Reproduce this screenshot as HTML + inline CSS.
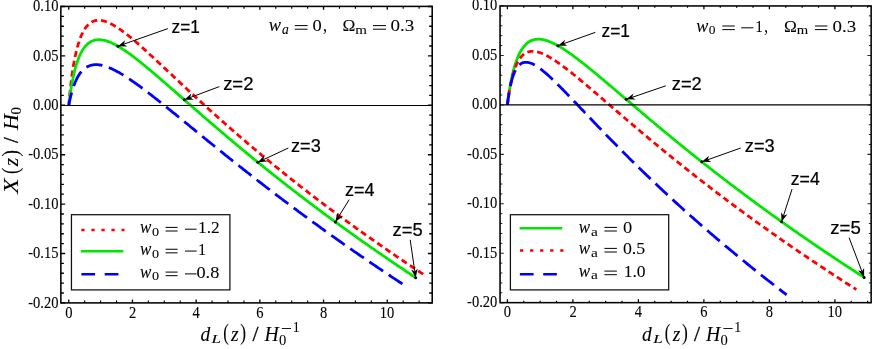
<!DOCTYPE html>
<html><head><meta charset="utf-8"><title>plot</title>
<style>html,body{margin:0;padding:0;background:#fff;}body{width:872px;height:349px;overflow:hidden;font-family:"Liberation Sans",sans-serif;}svg{display:block;will-change:transform;}text{fill:#000;}.t text{stroke:#000;stroke-width:0.1px;}.z text{stroke:#000;stroke-width:0.22px;}.m text{stroke:#000;stroke-width:0.06px;}</style>
</head><body>
<svg width="872" height="349" viewBox="0 0 872 349">
<rect width="872" height="349" fill="#fff"/>
<path d="M68.8 105.3 L68.9 103.4 L69.1 101.6 L69.2 99.8 L69.4 98.1 L69.6 96.3 L69.7 94.6 L69.9 92.9 L70.1 91.3 L70.2 89.7 L70.4 88.1 L70.6 86.6 L70.8 85.0 L70.9 83.5 L71.1 82.0 L71.3 80.6 L71.5 79.2 L71.7 77.4 L71.9 75.7 L72.2 74.1 L72.4 72.5 L72.6 70.9 L72.9 69.3 L73.1 67.8 L73.3 66.3 L73.6 64.9 L73.8 63.5 L74.1 61.8 L74.4 60.2 L74.7 58.7 L75.0 57.2 L75.3 55.7 L75.6 54.3 L76.0 52.9 L76.3 51.3 L76.7 49.8 L77.1 48.3 L77.4 46.9 L77.9 45.4 L78.3 43.9 L78.8 42.5 L79.2 41.1 L79.7 39.6 L80.2 38.3 L80.7 36.9 L81.3 35.5 L81.9 34.2 L82.6 32.9 L83.2 31.6 L83.9 30.3 L84.7 29.0 L85.5 27.8 L86.4 26.7 L87.4 25.6 L88.4 24.5 L89.5 23.5 L90.7 22.7 L91.9 21.9 L93.3 21.3 L94.6 20.8 L96.0 20.5 L97.5 20.3 L99.0 20.3 L100.4 20.4 L101.8 20.6 L103.3 20.9 L104.7 21.2 L106.1 21.7 L107.4 22.2 L108.8 22.8 L110.0 23.4 L111.3 24.0 L112.6 24.7 L113.9 25.4 L115.2 26.2 L116.4 27.0 L117.7 27.8 L118.9 28.6 L120.0 29.4 L121.2 30.2 L122.4 31.1 L123.6 32.0 L124.8 32.9 L125.9 33.7 L127.1 34.6 L128.2 35.5 L129.3 36.4 L130.5 37.4 L131.6 38.3 L132.8 39.3 L133.9 40.3 L135.1 41.2 L136.2 42.2 L137.3 43.1 L138.3 44.1 L139.4 45.0 L140.5 46.0 L141.6 46.9 L142.7 47.9 L143.8 48.9 L144.9 49.9 L146.0 50.9 L147.1 51.9 L148.2 52.9 L149.3 53.9 L150.4 55.0 L151.6 56.0 L152.7 57.0 L153.8 58.0 L154.9 59.1 L156.0 60.1 L157.0 61.0 L158.0 62.0 L159.1 63.0 L160.1 63.9 L161.2 64.9 L162.2 65.9 L163.3 66.9 L164.3 67.9 L165.4 68.9 L166.5 69.9 L167.5 70.9 L168.6 71.8 L169.6 72.8 L170.7 73.8 L171.8 74.8 L172.8 75.8 L173.9 76.9 L175.0 77.9 L176.1 78.9 L177.1 79.9 L178.2 80.9 L179.3 81.9 L180.4 82.9 L181.4 83.9 L182.5 84.9 L183.6 85.9 L184.7 86.9 L185.8 87.9 L186.9 89.0 L188.0 90.0 L189.0 91.0 L190.1 92.0 L191.2 93.0 L192.3 94.0 L193.4 95.0 L194.5 96.1 L195.6 97.1 L196.7 98.1 L197.8 99.1 L198.9 100.1 L200.0 101.1 L201.1 102.1 L202.2 103.1 L203.4 104.2 L204.5 105.2 L205.6 106.2 L206.7 107.2 L207.8 108.2 L208.9 109.2 L210.0 110.2 L211.1 111.2 L212.3 112.2 L213.4 113.2 L214.5 114.3 L215.6 115.3 L216.7 116.3 L217.9 117.3 L219.0 118.3 L220.1 119.3 L221.2 120.3 L222.4 121.3 L223.5 122.3 L224.6 123.3 L225.8 124.3 L226.9 125.3 L228.0 126.3 L229.2 127.3 L230.3 128.3 L231.4 129.3 L232.6 130.3 L233.7 131.3 L234.9 132.3 L236.0 133.2 L237.1 134.2 L238.3 135.2 L239.4 136.2 L240.6 137.2 L241.7 138.2 L242.9 139.2 L244.0 140.2 L245.2 141.1 L246.3 142.1 L247.5 143.1 L248.6 144.1 L249.8 145.1 L250.9 146.0 L252.1 147.0 L253.2 148.0 L254.4 149.0 L255.5 149.9 L256.7 150.9 L257.9 151.9 L259.0 152.9 L260.2 153.8 L261.3 154.8 L262.5 155.8 L263.7 156.7 L264.8 157.7 L266.0 158.7 L267.2 159.6 L268.3 160.6 L269.5 161.5 L270.7 162.5 L271.8 163.5 L273.0 164.4 L274.2 165.4 L275.3 166.3 L276.5 167.3 L277.7 168.2 L278.9 169.2 L280.0 170.1 L281.2 171.1 L282.4 172.0 L283.6 173.0 L284.7 173.9 L285.9 174.9 L287.1 175.8 L288.3 176.7 L289.5 177.7 L290.6 178.6 L291.8 179.6 L293.0 180.5 L294.2 181.4 L295.4 182.4 L296.6 183.3 L297.8 184.2 L298.9 185.2 L300.1 186.1 L301.3 187.0 L302.5 187.9 L303.7 188.9 L304.9 189.8 L306.1 190.7 L307.3 191.6 L308.5 192.6 L309.7 193.5 L310.8 194.4 L312.0 195.3 L313.2 196.2 L314.4 197.1 L315.6 198.1 L316.8 199.0 L318.0 199.9 L319.2 200.8 L320.4 201.7 L321.6 202.6 L322.8 203.5 L324.0 204.4 L325.2 205.3 L326.4 206.2 L327.6 207.1 L328.8 208.0 L330.0 208.9 L331.2 209.8 L332.4 210.7 L333.7 211.6 L334.9 212.5 L336.1 213.4 L337.3 214.3 L338.5 215.2 L339.7 216.1 L340.9 217.0 L342.1 217.9 L343.3 218.8 L344.5 219.7 L345.7 220.5 L347.0 221.4 L348.2 222.3 L349.4 223.2 L350.6 224.1 L351.8 224.9 L353.0 225.8 L354.3 226.7 L355.5 227.6 L356.7 228.5 L357.9 229.3 L359.1 230.2 L360.3 231.1 L361.6 232.0 L362.8 232.8 L364.0 233.7 L365.2 234.6 L366.4 235.4 L367.7 236.3 L368.9 237.2 L370.1 238.0 L371.3 238.9 L372.6 239.7 L373.8 240.6 L375.0 241.5 L376.2 242.3 L377.5 243.2 L378.7 244.0 L379.9 244.9 L381.2 245.7 L382.4 246.6 L383.6 247.5 L384.8 248.3 L386.1 249.2 L387.3 250.0 L388.5 250.9 L389.8 251.7 L391.0 252.5 L392.2 253.4 L393.5 254.2 L394.7 255.1 L395.9 255.9 L397.2 256.8 L398.4 257.6 L399.6 258.4 L400.9 259.3 L402.1 260.1 L403.4 261.0 L404.6 261.8 L405.8 262.6 L407.1 263.5 L408.3 264.3 L409.5 265.1 L410.8 265.9 L412.0 266.8 L413.3 267.6 L414.5 268.4 L415.8 269.3 L417.0 270.1 L418.2 270.9 L419.5 271.7 L420.7 272.6 L422.0 273.4 L423.2 274.2 L424.5 275.0 L424.9 275.3 L426.0 276.1" fill="none" stroke="#ff0000" stroke-width="2.80" stroke-dasharray="6.1 3.79" stroke-dashoffset="0.8"/>
<path d="M68.8 105.3 L69.0 103.6 L69.2 102.0 L69.4 100.4 L69.6 98.8 L69.8 97.2 L70.0 95.7 L70.2 94.2 L70.4 92.8 L70.6 91.3 L70.9 89.7 L71.1 88.0 L71.4 86.5 L71.7 84.9 L71.9 83.4 L72.2 81.9 L72.5 80.5 L72.8 79.1 L73.1 77.5 L73.4 76.0 L73.8 74.5 L74.1 73.0 L74.4 71.6 L74.8 70.0 L75.2 68.5 L75.6 67.1 L76.0 65.7 L76.5 64.2 L77.0 62.7 L77.4 61.4 L78.0 59.9 L78.5 58.5 L79.0 57.1 L79.6 55.7 L80.2 54.4 L80.9 53.1 L81.6 51.8 L82.3 50.5 L83.1 49.2 L84.0 48.0 L84.8 46.9 L85.8 45.7 L86.8 44.7 L87.9 43.7 L89.1 42.8 L90.3 42.0 L91.5 41.3 L92.9 40.7 L94.3 40.3 L95.7 40.0 L97.1 39.8 L98.5 39.7 L99.9 39.7 L101.4 39.8 L102.8 40.1 L104.2 40.3 L105.6 40.7 L107.0 41.1 L108.4 41.6 L109.8 42.1 L111.1 42.7 L112.4 43.3 L113.8 44.0 L115.0 44.6 L116.3 45.3 L117.6 46.0 L118.9 46.8 L120.1 47.5 L121.3 48.3 L122.6 49.1 L123.8 49.9 L125.1 50.7 L126.2 51.5 L127.4 52.3 L128.6 53.2 L129.8 54.0 L131.0 54.9 L132.2 55.8 L133.4 56.7 L134.6 57.6 L135.7 58.5 L136.8 59.3 L137.9 60.2 L139.1 61.1 L140.2 62.0 L141.4 62.9 L142.5 63.9 L143.7 64.8 L144.8 65.7 L146.0 66.7 L147.1 67.7 L148.3 68.6 L149.5 69.6 L150.6 70.5 L151.6 71.4 L152.7 72.3 L153.8 73.3 L154.9 74.2 L156.0 75.1 L157.1 76.1 L158.2 77.0 L159.3 78.0 L160.4 78.9 L161.5 79.9 L162.6 80.8 L163.8 81.8 L164.9 82.8 L166.0 83.8 L167.1 84.7 L168.2 85.7 L169.4 86.7 L170.5 87.7 L171.6 88.6 L172.7 89.6 L173.9 90.6 L175.0 91.6 L176.1 92.6 L177.3 93.6 L178.4 94.6 L179.6 95.6 L180.7 96.6 L181.8 97.6 L183.0 98.6 L184.1 99.6 L185.3 100.6 L186.4 101.6 L187.5 102.6 L188.6 103.5 L189.6 104.4 L190.7 105.4 L191.8 106.3 L192.8 107.2 L193.9 108.2 L195.0 109.1 L196.1 110.1 L197.2 111.0 L198.2 111.9 L199.3 112.9 L200.4 113.8 L201.5 114.8 L202.6 115.7 L203.6 116.6 L204.7 117.6 L205.8 118.5 L206.9 119.5 L208.0 120.4 L209.1 121.4 L210.2 122.3 L211.3 123.2 L212.4 124.2 L213.5 125.1 L214.6 126.1 L215.7 127.0 L216.8 128.0 L217.9 128.9 L219.0 129.8 L220.1 130.8 L221.2 131.7 L222.3 132.7 L223.4 133.6 L224.5 134.5 L225.6 135.5 L226.7 136.4 L227.8 137.4 L228.9 138.3 L230.0 139.2 L231.2 140.2 L232.3 141.1 L233.4 142.1 L234.5 143.0 L235.6 143.9 L236.7 144.9 L237.9 145.8 L239.0 146.7 L240.1 147.7 L241.2 148.6 L242.4 149.5 L243.5 150.5 L244.6 151.4 L245.7 152.3 L246.9 153.3 L248.0 154.2 L249.1 155.1 L250.3 156.1 L251.4 157.0 L252.5 157.9 L253.6 158.8 L254.8 159.8 L255.9 160.7 L257.1 161.6 L258.2 162.5 L259.3 163.5 L260.5 164.4 L261.6 165.3 L262.8 166.2 L263.9 167.1 L265.0 168.1 L266.2 169.0 L267.3 169.9 L268.5 170.8 L269.6 171.7 L270.8 172.6 L271.9 173.6 L273.1 174.5 L274.2 175.4 L275.4 176.3 L276.5 177.2 L277.7 178.1 L278.8 179.0 L280.0 179.9 L281.1 180.9 L282.3 181.8 L283.4 182.7 L284.6 183.6 L285.7 184.5 L286.9 185.4 L288.1 186.3 L289.2 187.2 L290.4 188.1 L291.5 189.0 L292.7 189.9 L293.9 190.8 L295.0 191.7 L296.2 192.6 L297.4 193.5 L298.5 194.4 L299.7 195.3 L300.8 196.2 L302.0 197.0 L303.2 197.9 L304.4 198.8 L305.5 199.7 L306.7 200.6 L307.9 201.5 L309.0 202.4 L310.2 203.3 L311.4 204.2 L312.6 205.0 L313.7 205.9 L314.9 206.8 L316.1 207.7 L317.3 208.6 L318.4 209.4 L319.6 210.3 L320.8 211.2 L322.0 212.1 L323.1 213.0 L324.3 213.8 L325.5 214.7 L326.7 215.6 L327.9 216.4 L329.1 217.3 L330.2 218.2 L331.4 219.1 L332.6 219.9 L333.8 220.8 L335.0 221.7 L336.2 222.5 L337.4 223.4 L338.5 224.2 L339.7 225.1 L340.9 226.0 L342.1 226.8 L343.3 227.7 L344.5 228.6 L345.7 229.4 L346.9 230.3 L348.1 231.1 L349.3 232.0 L350.4 232.8 L351.6 233.7 L352.8 234.5 L354.0 235.4 L355.2 236.2 L356.4 237.1 L357.6 237.9 L358.8 238.8 L360.0 239.6 L361.2 240.5 L362.4 241.3 L363.6 242.2 L364.8 243.0 L366.0 243.9 L367.2 244.7 L368.4 245.5 L369.6 246.4 L370.8 247.2 L372.0 248.1 L373.2 248.9 L374.4 249.7 L375.6 250.6 L376.8 251.4 L378.1 252.2 L379.3 253.1 L380.5 253.9 L381.7 254.7 L382.9 255.6 L384.1 256.4 L385.3 257.2 L386.5 258.0 L387.7 258.9 L388.9 259.7 L390.1 260.5 L391.4 261.3 L392.6 262.2 L393.8 263.0 L395.0 263.8 L396.2 264.6 L397.4 265.5 L398.6 266.3 L399.9 267.1 L401.1 267.9 L402.3 268.7 L403.5 269.5 L404.7 270.4 L405.9 271.2 L407.2 272.0 L408.4 272.8 L409.6 273.6 L410.8 274.4 L412.0 275.2 L413.3 276.0 L414.5 276.8 L415.7 277.6" fill="none" stroke="#00e600" stroke-width="2.80"/>
<path d="M68.8 105.3 L69.0 103.9 L69.3 102.4 L69.6 100.9 L70.0 99.4 L70.3 97.9 L70.7 96.5 L71.0 95.1 L71.4 93.6 L71.8 92.1 L72.2 90.8 L72.6 89.3 L73.1 87.8 L73.6 86.5 L74.1 85.0 L74.6 83.7 L75.2 82.2 L75.8 80.9 L76.4 79.5 L77.1 78.2 L77.8 76.9 L78.5 75.6 L79.3 74.4 L80.1 73.2 L81.1 72.0 L82.0 70.9 L83.0 69.9 L84.0 69.0 L85.2 68.1 L86.4 67.2 L87.6 66.6 L89.0 66.0 L90.3 65.5 L91.7 65.1 L93.1 64.8 L94.6 64.7 L96.1 64.7 L97.5 64.7 L98.9 64.8 L100.4 65.0 L101.8 65.3 L103.2 65.7 L104.6 66.1 L106.0 66.5 L107.3 67.0 L108.7 67.5 L110.1 68.1 L111.4 68.6 L112.8 69.3 L114.0 69.9 L115.3 70.5 L116.6 71.2 L117.9 72.0 L119.2 72.6 L120.4 73.4 L121.7 74.1 L123.0 74.9 L124.2 75.7 L125.4 76.4 L126.6 77.2 L127.8 78.0 L129.0 78.8 L130.3 79.6 L131.5 80.5 L132.7 81.3 L133.9 82.2 L135.1 83.0 L136.3 83.8 L137.4 84.7 L138.6 85.5 L139.8 86.4 L141.0 87.2 L142.1 88.1 L143.3 89.0 L144.5 89.9 L145.7 90.8 L146.9 91.7 L148.1 92.6 L149.2 93.5 L150.4 94.4 L151.5 95.2 L152.6 96.1 L153.7 97.0 L154.9 97.9 L156.0 98.8 L157.2 99.7 L158.3 100.6 L159.5 101.5 L160.6 102.4 L161.8 103.4 L162.9 104.3 L164.1 105.2 L165.2 106.1 L166.4 107.1 L167.6 108.0 L168.7 109.0 L169.9 109.9 L171.1 110.9 L172.2 111.8 L173.4 112.8 L174.6 113.7 L175.8 114.7 L176.9 115.6 L178.0 116.5 L179.1 117.4 L180.2 118.3 L181.3 119.2 L182.4 120.1 L183.5 121.0 L184.6 121.9 L185.7 122.8 L186.9 123.7 L188.0 124.6 L189.1 125.5 L190.2 126.5 L191.3 127.4 L192.5 128.3 L193.6 129.2 L194.7 130.1 L195.8 131.1 L197.0 132.0 L198.1 132.9 L199.2 133.8 L200.4 134.8 L201.5 135.7 L202.6 136.6 L203.8 137.5 L204.9 138.5 L206.1 139.4 L207.2 140.3 L208.4 141.3 L209.5 142.2 L210.6 143.1 L211.8 144.0 L213.0 145.0 L214.1 145.9 L215.3 146.8 L216.4 147.8 L217.6 148.7 L218.7 149.6 L219.9 150.6 L221.0 151.5 L222.2 152.4 L223.4 153.4 L224.5 154.3 L225.7 155.3 L226.9 156.2 L228.0 157.1 L229.2 158.1 L230.4 159.0 L231.5 159.9 L232.7 160.9 L233.9 161.8 L235.1 162.7 L236.2 163.7 L237.4 164.6 L238.6 165.5 L239.8 166.5 L241.0 167.4 L242.2 168.3 L243.3 169.3 L244.5 170.2 L245.7 171.1 L246.9 172.1 L248.1 173.0 L249.3 173.9 L250.5 174.9 L251.7 175.8 L252.8 176.7 L254.0 177.7 L255.2 178.6 L256.4 179.5 L257.6 180.5 L258.8 181.4 L260.0 182.3 L261.2 183.2 L262.4 184.2 L263.6 185.1 L264.8 186.0 L266.0 187.0 L267.2 187.9 L268.4 188.8 L269.7 189.7 L270.9 190.7 L272.1 191.6 L273.3 192.5 L274.5 193.4 L275.7 194.3 L276.9 195.3 L278.1 196.2 L279.3 197.1 L280.6 198.0 L281.8 199.0 L283.0 199.9 L284.2 200.8 L285.4 201.7 L286.7 202.6 L287.9 203.5 L289.1 204.5 L290.3 205.4 L291.5 206.3 L292.8 207.2 L294.0 208.1 L295.2 209.0 L296.5 209.9 L297.7 210.8 L298.9 211.8 L300.1 212.7 L301.4 213.6 L302.6 214.5 L303.8 215.4 L305.1 216.3 L306.3 217.2 L307.5 218.1 L308.8 219.0 L310.0 219.9 L311.2 220.8 L312.5 221.7 L313.6 222.6 L314.8 223.4 L315.9 224.2 L317.1 225.0 L318.2 225.9 L319.4 226.7 L320.5 227.5 L321.6 228.4 L322.8 229.2 L323.9 230.0 L325.1 230.8 L326.2 231.7 L327.4 232.5 L328.6 233.3 L329.7 234.1 L330.9 235.0 L332.0 235.8 L333.2 236.6 L334.3 237.4 L335.5 238.2 L336.6 239.1 L337.8 239.9 L338.9 240.7 L340.1 241.5 L341.3 242.3 L342.4 243.1 L343.6 244.0 L344.7 244.8 L345.9 245.6 L347.1 246.4 L348.2 247.2 L349.4 248.0 L350.6 248.8 L351.7 249.6 L352.9 250.5 L354.0 251.3 L355.2 252.1 L356.4 252.9 L357.5 253.7 L358.7 254.5 L359.9 255.3 L361.0 256.1 L362.2 256.9 L363.4 257.7 L364.6 258.5 L365.7 259.3 L366.9 260.1 L368.1 260.9 L369.2 261.7 L370.4 262.5 L371.6 263.3 L372.8 264.1 L373.9 264.9 L375.1 265.7 L376.3 266.5 L377.5 267.3 L378.6 268.1 L379.8 268.9 L381.0 269.7 L382.2 270.5 L383.4 271.3 L384.5 272.0 L385.7 272.8 L386.9 273.6 L388.1 274.4 L389.3 275.2 L390.4 276.0 L391.6 276.8 L392.8 277.6 L394.0 278.4 L395.2 279.1 L396.3 279.9 L397.5 280.7 L398.7 281.5 L399.9 282.3 L401.1 283.0 L402.3 283.8 L403.3 284.5 L404.4 285.2" fill="none" stroke="#0000ff" stroke-width="2.80" stroke-dasharray="16.5 6.75" stroke-dashoffset="3.4"/>
<path d="M507.4 104.9 L507.6 103.2 L507.8 101.5 L508.0 99.9 L508.2 98.4 L508.4 96.8 L508.7 95.3 L508.9 93.8 L509.1 92.3 L509.3 90.9 L509.5 89.5 L509.8 87.9 L510.1 86.3 L510.4 84.7 L510.6 83.2 L510.9 81.7 L511.2 80.3 L511.5 78.9 L511.8 77.3 L512.2 75.7 L512.5 74.2 L512.9 72.8 L513.2 71.3 L513.6 70.0 L514.0 68.5 L514.4 67.0 L514.8 65.6 L515.2 64.2 L515.7 62.8 L516.2 61.3 L516.7 60.0 L517.2 58.6 L517.8 57.2 L518.3 55.9 L518.9 54.5 L519.6 53.3 L520.3 51.9 L521.0 50.7 L521.7 49.5 L522.6 48.2 L523.4 47.1 L524.3 45.9 L525.3 44.9 L526.4 43.8 L527.5 42.9 L528.7 42.0 L529.9 41.3 L531.2 40.6 L532.6 40.1 L534.0 39.7 L535.4 39.4 L536.9 39.3 L538.3 39.2 L539.8 39.2 L541.2 39.4 L542.6 39.6 L544.1 39.9 L545.5 40.3 L546.9 40.7 L548.2 41.1 L549.6 41.7 L550.9 42.2 L552.3 42.8 L553.6 43.4 L554.9 44.1 L556.2 44.8 L557.5 45.4 L558.7 46.2 L560.0 46.9 L561.2 47.6 L562.5 48.4 L563.8 49.2 L565.0 50.0 L566.2 50.8 L567.4 51.6 L568.6 52.5 L569.8 53.3 L571.0 54.2 L572.3 55.1 L573.4 55.9 L574.6 56.8 L575.7 57.6 L576.9 58.5 L578.1 59.4 L579.2 60.3 L580.4 61.2 L581.6 62.1 L582.7 63.0 L583.9 63.9 L585.1 64.9 L586.3 65.8 L587.4 66.7 L588.5 67.6 L589.6 68.5 L590.7 69.4 L591.9 70.3 L593.0 71.3 L594.1 72.2 L595.2 73.1 L596.3 74.0 L597.5 75.0 L598.6 75.9 L599.7 76.9 L600.9 77.8 L602.0 78.8 L603.2 79.7 L604.3 80.7 L605.4 81.7 L606.6 82.6 L607.7 83.6 L608.9 84.6 L610.0 85.6 L611.2 86.5 L612.4 87.5 L613.5 88.5 L614.7 89.5 L615.8 90.5 L616.9 91.4 L618.0 92.3 L619.1 93.3 L620.2 94.2 L621.2 95.1 L622.3 96.0 L623.4 97.0 L624.5 97.9 L625.6 98.8 L626.7 99.7 L627.8 100.7 L628.9 101.6 L630.0 102.5 L631.1 103.5 L632.2 104.4 L633.3 105.3 L634.4 106.3 L635.5 107.2 L636.6 108.2 L637.7 109.1 L638.8 110.0 L639.9 111.0 L641.0 111.9 L642.1 112.9 L643.2 113.8 L644.3 114.7 L645.5 115.7 L646.6 116.6 L647.7 117.6 L648.8 118.5 L649.9 119.5 L651.0 120.4 L652.2 121.3 L653.3 122.3 L654.4 123.2 L655.5 124.2 L656.7 125.1 L657.8 126.1 L658.9 127.0 L660.1 127.9 L661.2 128.9 L662.3 129.8 L663.5 130.8 L664.6 131.7 L665.7 132.7 L666.9 133.6 L668.0 134.5 L669.2 135.5 L670.3 136.4 L671.4 137.4 L672.6 138.3 L673.7 139.2 L674.9 140.2 L676.0 141.1 L677.2 142.1 L678.3 143.0 L679.5 143.9 L680.6 144.9 L681.8 145.8 L682.9 146.7 L684.1 147.7 L685.2 148.6 L686.4 149.5 L687.6 150.5 L688.7 151.4 L689.9 152.3 L691.0 153.3 L692.2 154.2 L693.4 155.1 L694.5 156.1 L695.7 157.0 L696.8 157.9 L698.0 158.9 L699.2 159.8 L700.3 160.7 L701.5 161.6 L702.7 162.6 L703.9 163.5 L705.0 164.4 L706.2 165.3 L707.4 166.2 L708.5 167.2 L709.7 168.1 L710.9 169.0 L712.1 169.9 L713.3 170.8 L714.4 171.8 L715.6 172.7 L716.8 173.6 L718.0 174.5 L719.2 175.4 L720.3 176.3 L721.5 177.2 L722.7 178.2 L723.9 179.1 L725.1 180.0 L726.3 180.9 L727.4 181.8 L728.6 182.7 L729.8 183.6 L731.0 184.5 L732.2 185.4 L733.4 186.3 L734.6 187.2 L735.8 188.1 L737.0 189.0 L738.2 189.9 L739.4 190.8 L740.6 191.7 L741.8 192.6 L743.0 193.5 L744.2 194.4 L745.4 195.3 L746.6 196.2 L747.8 197.1 L749.0 198.0 L750.2 198.9 L751.4 199.8 L752.6 200.7 L753.8 201.5 L755.0 202.4 L756.2 203.3 L757.4 204.2 L758.6 205.1 L759.8 206.0 L761.0 206.9 L762.2 207.7 L763.4 208.6 L764.6 209.5 L765.9 210.4 L767.1 211.3 L768.3 212.1 L769.5 213.0 L770.7 213.9 L771.9 214.8 L773.1 215.6 L774.4 216.5 L775.6 217.4 L776.8 218.2 L778.0 219.1 L779.2 220.0 L780.4 220.8 L781.7 221.7 L782.9 222.6 L784.1 223.4 L785.3 224.3 L786.5 225.2 L787.8 226.0 L789.0 226.9 L790.2 227.8 L791.4 228.6 L792.7 229.5 L793.9 230.3 L795.1 231.2 L796.3 232.0 L797.6 232.9 L798.8 233.8 L800.0 234.6 L801.3 235.5 L802.5 236.3 L803.7 237.2 L804.9 238.0 L806.2 238.9 L807.4 239.7 L808.6 240.6 L809.9 241.4 L811.1 242.2 L812.3 243.1 L813.6 243.9 L814.8 244.8 L816.1 245.6 L817.3 246.5 L818.5 247.3 L819.8 248.1 L821.0 249.0 L822.2 249.8 L823.5 250.6 L824.7 251.5 L826.0 252.3 L827.2 253.1 L828.4 254.0 L829.7 254.8 L830.9 255.6 L832.2 256.5 L833.4 257.3 L834.7 258.1 L835.9 259.0 L837.2 259.8 L838.4 260.6 L839.6 261.4 L840.9 262.3 L842.1 263.1 L843.4 263.9 L844.6 264.7 L845.9 265.5 L847.1 266.4 L848.4 267.2 L849.6 268.0 L850.9 268.8 L852.1 269.6 L853.4 270.4 L854.6 271.3 L855.9 272.1 L857.1 272.9 L858.4 273.7 L859.6 274.5 L860.9 275.3 L862.2 276.1 L863.4 276.9 L864.1 277.4" fill="none" stroke="#00e600" stroke-width="2.80"/>
<path d="M507.4 104.9 L507.6 103.2 L507.8 101.6 L508.0 100.0 L508.2 98.4 L508.4 96.9 L508.7 95.4 L508.9 94.0 L509.1 92.3 L509.4 90.7 L509.7 89.2 L509.9 87.6 L510.2 86.2 L510.5 84.8 L510.8 83.2 L511.2 81.6 L511.5 80.1 L511.8 78.7 L512.2 77.3 L512.5 75.8 L512.9 74.4 L513.3 73.0 L513.8 71.5 L514.3 70.1 L514.8 68.6 L515.3 67.2 L515.8 65.9 L516.4 64.6 L517.1 63.2 L517.7 61.9 L518.4 60.6 L519.2 59.3 L520.1 58.1 L521.0 56.9 L522.0 55.9 L523.1 54.8 L524.2 53.9 L525.4 53.2 L526.7 52.5 L528.1 52.0 L529.5 51.6 L530.9 51.4 L532.4 51.3 L533.8 51.4 L535.2 51.5 L536.6 51.8 L538.1 52.1 L539.5 52.5 L540.9 53.0 L542.2 53.5 L543.5 54.1 L544.8 54.7 L546.1 55.3 L547.4 56.0 L548.7 56.7 L550.0 57.4 L551.2 58.2 L552.5 59.0 L553.7 59.7 L554.9 60.5 L556.1 61.3 L557.3 62.1 L558.5 63.0 L559.7 63.8 L560.9 64.7 L562.1 65.5 L563.2 66.4 L564.4 67.3 L565.6 68.2 L566.7 69.1 L567.9 70.0 L569.1 70.9 L570.3 71.8 L571.4 72.7 L572.5 73.6 L573.6 74.5 L574.8 75.4 L575.9 76.4 L577.0 77.3 L578.1 78.2 L579.3 79.2 L580.4 80.1 L581.6 81.1 L582.7 82.0 L583.9 83.0 L585.0 84.0 L586.2 84.9 L587.3 85.9 L588.4 86.8 L589.5 87.8 L590.6 88.7 L591.7 89.6 L592.8 90.5 L593.8 91.5 L594.9 92.4 L596.0 93.3 L597.1 94.3 L598.2 95.2 L599.3 96.2 L600.4 97.1 L601.6 98.1 L602.7 99.0 L603.8 100.0 L604.9 101.0 L606.0 101.9 L607.1 102.9 L608.2 103.9 L609.4 104.8 L610.5 105.8 L611.6 106.8 L612.7 107.7 L613.9 108.7 L615.0 109.7 L616.1 110.7 L617.3 111.6 L618.4 112.6 L619.6 113.6 L620.7 114.6 L621.8 115.6 L623.0 116.5 L624.1 117.5 L625.3 118.5 L626.4 119.5 L627.6 120.5 L628.8 121.5 L629.9 122.5 L631.1 123.4 L632.2 124.4 L633.4 125.4 L634.6 126.4 L635.7 127.4 L636.9 128.4 L638.1 129.4 L639.2 130.3 L640.3 131.3 L641.4 132.2 L642.5 133.1 L643.6 134.0 L644.6 134.9 L645.7 135.8 L646.8 136.7 L647.9 137.6 L649.0 138.6 L650.1 139.5 L651.2 140.4 L652.3 141.3 L653.4 142.2 L654.5 143.1 L655.6 144.0 L656.7 144.9 L657.8 145.8 L658.9 146.7 L660.0 147.7 L661.1 148.6 L662.2 149.5 L663.3 150.4 L664.4 151.3 L665.5 152.2 L666.6 153.1 L667.7 154.0 L668.9 154.9 L670.0 155.8 L671.1 156.7 L672.2 157.6 L673.3 158.5 L674.4 159.4 L675.6 160.3 L676.7 161.2 L677.8 162.1 L678.9 163.0 L680.0 163.9 L681.2 164.8 L682.3 165.7 L683.4 166.6 L684.6 167.5 L685.7 168.4 L686.8 169.3 L687.9 170.2 L689.1 171.1 L690.2 172.0 L691.3 172.9 L692.5 173.8 L693.6 174.7 L694.7 175.6 L695.9 176.5 L697.0 177.4 L698.2 178.3 L699.3 179.1 L700.4 180.0 L701.6 180.9 L702.7 181.8 L703.9 182.7 L705.0 183.6 L706.2 184.5 L707.3 185.3 L708.5 186.2 L709.6 187.1 L710.8 188.0 L711.9 188.9 L713.1 189.8 L714.2 190.6 L715.4 191.5 L716.5 192.4 L717.7 193.3 L718.8 194.1 L720.0 195.0 L721.1 195.9 L722.3 196.8 L723.4 197.6 L724.6 198.5 L725.8 199.4 L726.9 200.3 L728.1 201.1 L729.3 202.0 L730.4 202.9 L731.6 203.7 L732.7 204.6 L733.9 205.5 L735.1 206.3 L736.2 207.2 L737.4 208.1 L738.6 208.9 L739.8 209.8 L740.9 210.6 L742.1 211.5 L743.3 212.4 L744.4 213.2 L745.6 214.1 L746.8 214.9 L748.0 215.8 L749.1 216.6 L750.3 217.5 L751.5 218.4 L752.7 219.2 L753.8 220.1 L755.0 220.9 L756.2 221.8 L757.4 222.6 L758.6 223.5 L759.7 224.3 L760.9 225.2 L762.1 226.0 L763.3 226.8 L764.5 227.7 L765.7 228.5 L766.8 229.4 L768.0 230.2 L769.2 231.1 L770.4 231.9 L771.6 232.7 L772.8 233.6 L774.0 234.4 L775.2 235.2 L776.4 236.1 L777.5 236.9 L778.7 237.8 L779.9 238.6 L781.1 239.4 L782.3 240.3 L783.5 241.1 L784.7 241.9 L785.9 242.7 L787.1 243.6 L788.3 244.4 L789.5 245.2 L790.7 246.1 L791.9 246.9 L793.1 247.7 L794.3 248.5 L795.5 249.3 L796.7 250.2 L797.9 251.0 L799.1 251.8 L800.3 252.6 L801.5 253.4 L802.7 254.3 L803.9 255.1 L805.1 255.9 L806.3 256.7 L807.5 257.5 L808.7 258.3 L810.0 259.2 L811.2 260.0 L812.4 260.8 L813.6 261.6 L814.8 262.4 L816.0 263.2 L817.2 264.0 L818.4 264.8 L819.6 265.6 L820.8 266.4 L822.1 267.2 L823.3 268.0 L824.5 268.8 L825.7 269.7 L826.9 270.5 L828.1 271.3 L829.4 272.1 L830.6 272.9 L831.8 273.7 L833.0 274.5 L834.2 275.2 L835.4 276.0 L836.7 276.8 L837.9 277.6 L839.1 278.4 L840.3 279.2 L841.5 280.0 L842.8 280.8 L844.0 281.6 L845.2 282.4 L846.4 283.2 L847.7 284.0 L848.9 284.8 L850.1 285.5 L851.3 286.3 L852.6 287.1 L853.8 287.9 L855.0 288.7 L855.1 288.7 L856.3 289.5" fill="none" stroke="#ff0000" stroke-width="2.80" stroke-dasharray="6.1 3.79" stroke-dashoffset="0.9"/>
<path d="M507.4 104.9 L507.6 103.2 L507.8 101.6 L508.0 100.0 L508.2 98.5 L508.4 97.0 L508.7 95.6 L508.9 94.0 L509.2 92.4 L509.5 90.9 L509.7 89.4 L510.0 88.0 L510.3 86.4 L510.6 84.9 L511.0 83.5 L511.3 82.0 L511.7 80.5 L512.1 79.1 L512.5 77.6 L513.0 76.3 L513.5 74.8 L514.0 73.5 L514.5 72.2 L515.2 70.8 L515.8 69.5 L516.6 68.3 L517.4 67.1 L518.3 65.9 L519.3 64.9 L520.5 64.0 L521.7 63.2 L523.1 62.7 L524.5 62.4 L525.9 62.3 L527.4 62.4 L528.8 62.6 L530.2 63.0 L531.6 63.5 L532.9 64.1 L534.2 64.8 L535.5 65.5 L536.7 66.3 L537.9 67.1 L539.1 67.9 L540.3 68.8 L541.5 69.7 L542.6 70.6 L543.7 71.5 L544.8 72.4 L546.0 73.4 L547.1 74.4 L548.1 75.3 L549.2 76.3 L550.3 77.3 L551.4 78.3 L552.4 79.3 L553.5 80.3 L554.6 81.4 L555.6 82.4 L556.7 83.4 L557.7 84.4 L558.7 85.4 L559.8 86.5 L560.8 87.5 L561.8 88.6 L562.9 89.6 L563.9 90.7 L565.0 91.8 L566.1 92.9 L567.0 93.9 L568.0 94.9 L569.0 96.0 L570.0 97.0 L571.0 98.0 L572.0 99.1 L573.0 100.1 L574.0 101.2 L575.0 102.2 L576.1 103.3 L577.1 104.4 L578.1 105.4 L579.1 106.5 L580.1 107.6 L581.1 108.7 L582.2 109.7 L583.2 110.8 L584.2 111.9 L585.3 113.0 L586.3 114.1 L587.3 115.2 L588.4 116.3 L589.4 117.4 L590.5 118.5 L591.5 119.6 L592.6 120.7 L593.6 121.8 L594.7 122.9 L595.7 124.0 L596.8 125.1 L597.8 126.2 L598.8 127.2 L599.8 128.2 L600.8 129.2 L601.8 130.2 L602.7 131.3 L603.7 132.3 L604.7 133.3 L605.7 134.3 L606.7 135.4 L607.7 136.4 L608.7 137.4 L609.7 138.4 L610.7 139.5 L611.7 140.5 L612.7 141.5 L613.7 142.5 L614.7 143.6 L615.7 144.6 L616.7 145.6 L617.7 146.6 L618.7 147.6 L619.7 148.7 L620.8 149.7 L621.8 150.7 L622.8 151.7 L623.8 152.8 L624.8 153.8 L625.8 154.8 L626.9 155.8 L627.9 156.8 L628.9 157.9 L629.9 158.9 L631.0 159.9 L632.0 160.9 L633.0 161.9 L634.1 162.9 L635.1 164.0 L636.1 165.0 L637.2 166.0 L638.2 167.0 L639.2 168.0 L640.3 169.0 L641.3 170.0 L642.3 171.0 L643.4 172.0 L644.4 173.1 L645.5 174.1 L646.5 175.1 L647.6 176.1 L648.6 177.1 L649.7 178.1 L650.7 179.1 L651.8 180.1 L652.8 181.1 L653.9 182.1 L654.9 183.1 L656.0 184.1 L657.0 185.1 L658.1 186.1 L659.1 187.1 L660.2 188.1 L661.3 189.1 L662.3 190.1 L663.4 191.1 L664.4 192.0 L665.5 193.0 L666.6 194.0 L667.6 195.0 L668.7 196.0 L669.8 197.0 L670.8 198.0 L671.9 198.9 L673.0 199.9 L674.1 200.9 L675.1 201.9 L676.2 202.9 L677.3 203.9 L678.3 204.8 L679.4 205.8 L680.5 206.8 L681.6 207.8 L682.7 208.7 L683.7 209.7 L684.8 210.7 L685.9 211.6 L687.0 212.6 L688.1 213.6 L689.2 214.5 L690.2 215.5 L691.3 216.5 L692.4 217.4 L693.5 218.4 L694.6 219.4 L695.7 220.3 L696.8 221.3 L697.9 222.2 L699.0 223.2 L700.0 224.2 L701.1 225.1 L702.2 226.1 L703.3 227.0 L704.4 228.0 L705.5 228.9 L706.6 229.9 L707.7 230.8 L708.8 231.8 L709.9 232.7 L711.0 233.7 L712.1 234.6 L713.2 235.5 L714.3 236.5 L715.4 237.4 L716.5 238.4 L717.6 239.3 L718.7 240.2 L719.9 241.2 L721.0 242.1 L722.1 243.1 L723.2 244.0 L724.3 244.9 L725.4 245.9 L726.5 246.8 L727.6 247.7 L728.7 248.6 L729.9 249.6 L731.0 250.5 L732.1 251.4 L733.2 252.3 L734.3 253.3 L735.4 254.2 L736.5 255.1 L737.7 256.0 L738.8 256.9 L739.9 257.9 L741.0 258.8 L742.1 259.7 L743.3 260.6 L744.4 261.5 L745.5 262.4 L746.6 263.3 L747.8 264.3 L748.9 265.2 L750.0 266.1 L751.1 267.0 L752.3 267.9 L753.4 268.8 L754.5 269.7 L755.6 270.6 L756.8 271.5 L757.9 272.4 L759.0 273.3 L760.2 274.2 L761.3 275.1 L762.4 276.0 L763.6 276.9 L764.7 277.8 L765.8 278.7 L767.0 279.6 L768.1 280.5 L769.2 281.4 L770.4 282.2 L771.5 283.1 L772.7 284.0 L773.8 284.9 L774.9 285.8 L776.1 286.7 L777.2 287.6 L778.3 288.4 L779.5 289.3 L780.6 290.2 L781.8 291.1 L782.9 292.0 L784.1 292.8 L785.2 293.7 L785.5 293.9 L786.6 294.8" fill="none" stroke="#0000ff" stroke-width="2.80" stroke-dasharray="16.5 6.75" stroke-dashoffset="4.0"/>
<line x1="60.85" y1="105.45" x2="432.20" y2="105.45" stroke="#000" stroke-width="1.15"/>
<line x1="500.05" y1="104.88" x2="871.15" y2="104.88" stroke="#000" stroke-width="1.2"/>
<g class="z">
<line x1="167.90" y1="28.60" x2="123.74" y2="44.13" stroke="#000" stroke-width="1.00"/>
<path d="M117.89 46.19 L125.10 40.16 L123.74 44.13 L127.29 46.38 Z" fill="#000"/>
<circle cx="117.89" cy="46.19" r="1.5" fill="#000"/>
<text x="171.60" y="32.80" font-family="Liberation Sans" font-size="17.60" textLength="28.24" lengthAdjust="spacingAndGlyphs">z=1</text>
<line x1="219.30" y1="86.60" x2="190.12" y2="97.59" stroke="#000" stroke-width="1.00"/>
<path d="M184.31 99.78 L191.39 93.59 L190.12 97.59 L193.71 99.77 Z" fill="#000"/>
<circle cx="184.31" cy="99.78" r="1.5" fill="#000"/>
<text x="223.15" y="90.30" font-family="Liberation Sans" font-size="17.60" textLength="30.28" lengthAdjust="spacingAndGlyphs">z=2</text>
<line x1="288.40" y1="148.00" x2="263.44" y2="159.61" stroke="#000" stroke-width="1.00"/>
<path d="M257.81 162.23 L264.40 155.52 L263.44 159.61 L267.18 161.51 Z" fill="#000"/>
<circle cx="257.81" cy="162.23" r="1.5" fill="#000"/>
<text x="291.07" y="151.70" font-family="Liberation Sans" font-size="17.60" textLength="29.73" lengthAdjust="spacingAndGlyphs">z=3</text>
<line x1="349.20" y1="199.60" x2="338.64" y2="216.67" stroke="#000" stroke-width="1.00"/>
<path d="M335.37 221.94 L337.20 212.73 L338.64 216.67 L342.81 216.20 Z" fill="#000"/>
<circle cx="335.37" cy="221.94" r="1.5" fill="#000"/>
<text x="344.97" y="196.30" font-family="Liberation Sans" font-size="17.60" textLength="29.45" lengthAdjust="spacingAndGlyphs">z=4</text>
<line x1="410.20" y1="239.80" x2="414.80" y2="271.51" stroke="#000" stroke-width="1.00"/>
<path d="M415.69 277.64 L411.16 269.41 L414.80 271.51 L417.70 268.46 Z" fill="#000"/>
<circle cx="415.69" cy="277.64" r="1.5" fill="#000"/>
<text x="392.56" y="235.70" font-family="Liberation Sans" font-size="17.60" textLength="30.12" lengthAdjust="spacingAndGlyphs">z=5</text>
<line x1="595.35" y1="32.35" x2="563.77" y2="43.62" stroke="#000" stroke-width="1.00"/>
<path d="M557.93 45.71 L565.11 39.64 L563.77 43.62 L567.33 45.86 Z" fill="#000"/>
<circle cx="557.93" cy="45.71" r="1.5" fill="#000"/>
<text x="601.50" y="36.80" font-family="Liberation Sans" font-size="17.60" textLength="28.45" lengthAdjust="spacingAndGlyphs">z=1</text>
<line x1="665.80" y1="85.80" x2="632.10" y2="97.35" stroke="#000" stroke-width="1.00"/>
<path d="M626.23 99.35 L633.49 93.38 L632.10 97.35 L635.63 99.62 Z" fill="#000"/>
<circle cx="626.23" cy="99.35" r="1.5" fill="#000"/>
<text x="671.76" y="90.20" font-family="Liberation Sans" font-size="17.60" textLength="29.96" lengthAdjust="spacingAndGlyphs">z=2</text>
<line x1="740.70" y1="148.00" x2="707.65" y2="159.78" stroke="#000" stroke-width="1.00"/>
<path d="M701.81 161.86 L708.99 155.80 L707.65 159.78 L711.20 162.02 Z" fill="#000"/>
<circle cx="701.81" cy="161.86" r="1.5" fill="#000"/>
<text x="744.86" y="152.30" font-family="Liberation Sans" font-size="17.60" textLength="29.84" lengthAdjust="spacingAndGlyphs">z=3</text>
<line x1="792.05" y1="189.10" x2="783.46" y2="215.74" stroke="#000" stroke-width="1.00"/>
<path d="M781.56 221.64 L781.12 212.25 L783.46 215.74 L787.40 214.28 Z" fill="#000"/>
<circle cx="781.56" cy="221.64" r="1.5" fill="#000"/>
<text x="790.78" y="184.50" font-family="Liberation Sans" font-size="17.60" textLength="29.04" lengthAdjust="spacingAndGlyphs">z=4</text>
<line x1="849.10" y1="237.70" x2="861.95" y2="271.60" stroke="#000" stroke-width="1.00"/>
<path d="M864.15 277.40 L857.94 270.34 L861.95 271.60 L864.11 268.00 Z" fill="#000"/>
<circle cx="864.15" cy="277.40" r="1.5" fill="#000"/>
<text x="830.25" y="233.80" font-family="Liberation Sans" font-size="17.60" textLength="30.54" lengthAdjust="spacingAndGlyphs">z=5</text>
</g>
<path d="M68.75 302.90v-3.40M68.75 6.40v3.40M132.45 302.90v-3.40M132.45 6.40v3.40M196.15 302.90v-3.40M196.15 6.40v3.40M259.85 302.90v-3.40M259.85 6.40v3.40M323.55 302.90v-3.40M323.55 6.40v3.40M387.25 302.90v-3.40M387.25 6.40v3.40" stroke="#000" stroke-width="1.30" fill="none"/>
<path d="M84.67 302.90v-2.40M84.67 6.40v2.40M100.60 302.90v-2.40M100.60 6.40v2.40M116.53 302.90v-2.40M116.53 6.40v2.40M148.38 302.90v-2.40M148.38 6.40v2.40M164.30 302.90v-2.40M164.30 6.40v2.40M180.23 302.90v-2.40M180.23 6.40v2.40M212.08 302.90v-2.40M212.08 6.40v2.40M228.00 302.90v-2.40M228.00 6.40v2.40M243.93 302.90v-2.40M243.93 6.40v2.40M275.77 302.90v-2.40M275.77 6.40v2.40M291.70 302.90v-2.40M291.70 6.40v2.40M307.62 302.90v-2.40M307.62 6.40v2.40M339.48 302.90v-2.40M339.48 6.40v2.40M355.40 302.90v-2.40M355.40 6.40v2.40M371.32 302.90v-2.40M371.32 6.40v2.40M403.18 302.90v-2.40M403.18 6.40v2.40M419.10 302.90v-2.40M419.10 6.40v2.40" stroke="#000" stroke-width="1.15" fill="none"/>
<path d="M60.85 302.90h4.30M432.20 302.90h-4.30M60.85 253.50h4.30M432.20 253.50h-4.30M60.85 204.10h4.30M432.20 204.10h-4.30M60.85 154.70h4.30M432.20 154.70h-4.30M60.85 105.30h4.30M432.20 105.30h-4.30M60.85 55.90h4.30M432.20 55.90h-4.30M60.85 6.50h4.30M432.20 6.50h-4.30" stroke="#000" stroke-width="1.40" fill="none"/>
<path d="M60.85 293.02h3.00M432.20 293.02h-3.00M60.85 283.14h3.00M432.20 283.14h-3.00M60.85 273.26h3.00M432.20 273.26h-3.00M60.85 263.38h3.00M432.20 263.38h-3.00M60.85 243.62h3.00M432.20 243.62h-3.00M60.85 233.74h3.00M432.20 233.74h-3.00M60.85 223.86h3.00M432.20 223.86h-3.00M60.85 213.98h3.00M432.20 213.98h-3.00M60.85 194.22h3.00M432.20 194.22h-3.00M60.85 184.34h3.00M432.20 184.34h-3.00M60.85 174.46h3.00M432.20 174.46h-3.00M60.85 164.58h3.00M432.20 164.58h-3.00M60.85 144.82h3.00M432.20 144.82h-3.00M60.85 134.94h3.00M432.20 134.94h-3.00M60.85 125.06h3.00M432.20 125.06h-3.00M60.85 115.18h3.00M432.20 115.18h-3.00M60.85 95.42h3.00M432.20 95.42h-3.00M60.85 85.54h3.00M432.20 85.54h-3.00M60.85 75.66h3.00M432.20 75.66h-3.00M60.85 65.78h3.00M432.20 65.78h-3.00M60.85 46.02h3.00M432.20 46.02h-3.00M60.85 36.14h3.00M432.20 36.14h-3.00M60.85 26.26h3.00M432.20 26.26h-3.00M60.85 16.38h3.00M432.20 16.38h-3.00" stroke="#000" stroke-width="1.30" fill="none"/>
<rect x="60.85" y="6.40" width="371.35" height="296.50" fill="none" stroke="#000" stroke-width="1.55"/>
<path d="M507.40 302.65v-3.30M507.40 5.95v3.30M572.90 302.65v-3.30M572.90 5.95v3.30M638.40 302.65v-3.30M638.40 5.95v3.30M703.90 302.65v-3.30M703.90 5.95v3.30M769.40 302.65v-3.30M769.40 5.95v3.30M834.90 302.65v-3.30M834.90 5.95v3.30" stroke="#000" stroke-width="1.25" fill="none"/>
<path d="M523.77 302.65v-1.90M523.77 5.95v1.90M540.15 302.65v-1.90M540.15 5.95v1.90M556.52 302.65v-1.90M556.52 5.95v1.90M589.27 302.65v-1.90M589.27 5.95v1.90M605.65 302.65v-1.90M605.65 5.95v1.90M622.02 302.65v-1.90M622.02 5.95v1.90M654.77 302.65v-1.90M654.77 5.95v1.90M671.15 302.65v-1.90M671.15 5.95v1.90M687.52 302.65v-1.90M687.52 5.95v1.90M720.27 302.65v-1.90M720.27 5.95v1.90M736.65 302.65v-1.90M736.65 5.95v1.90M753.02 302.65v-1.90M753.02 5.95v1.90M785.77 302.65v-1.90M785.77 5.95v1.90M802.15 302.65v-1.90M802.15 5.95v1.90M818.52 302.65v-1.90M818.52 5.95v1.90M851.27 302.65v-1.90M851.27 5.95v1.90M867.65 302.65v-1.90M867.65 5.95v1.90" stroke="#000" stroke-width="1.20" fill="none"/>
<path d="M500.05 302.68h3.70M871.15 302.68h-3.70M500.05 253.23h3.70M871.15 253.23h-3.70M500.05 203.78h3.70M871.15 203.78h-3.70M500.05 154.33h3.70M871.15 154.33h-3.70M500.05 104.88h3.70M871.15 104.88h-3.70M500.05 55.43h3.70M871.15 55.43h-3.70M500.05 5.98h3.70M871.15 5.98h-3.70" stroke="#222" stroke-width="1.10" fill="none"/>
<path d="M500.05 292.79h2.30M871.15 292.79h-2.30M500.05 282.90h2.30M871.15 282.90h-2.30M500.05 273.01h2.30M871.15 273.01h-2.30M500.05 263.12h2.30M871.15 263.12h-2.30M500.05 243.34h2.30M871.15 243.34h-2.30M500.05 233.45h2.30M871.15 233.45h-2.30M500.05 223.56h2.30M871.15 223.56h-2.30M500.05 213.67h2.30M871.15 213.67h-2.30M500.05 193.89h2.30M871.15 193.89h-2.30M500.05 184.00h2.30M871.15 184.00h-2.30M500.05 174.11h2.30M871.15 174.11h-2.30M500.05 164.22h2.30M871.15 164.22h-2.30M500.05 144.44h2.30M871.15 144.44h-2.30M500.05 134.55h2.30M871.15 134.55h-2.30M500.05 124.66h2.30M871.15 124.66h-2.30M500.05 114.77h2.30M871.15 114.77h-2.30M500.05 94.99h2.30M871.15 94.99h-2.30M500.05 85.10h2.30M871.15 85.10h-2.30M500.05 75.21h2.30M871.15 75.21h-2.30M500.05 65.32h2.30M871.15 65.32h-2.30M500.05 45.54h2.30M871.15 45.54h-2.30M500.05 35.65h2.30M871.15 35.65h-2.30M500.05 25.76h2.30M871.15 25.76h-2.30M500.05 15.87h2.30M871.15 15.87h-2.30" stroke="#222" stroke-width="1.00" fill="none"/>
<rect x="500.05" y="5.95" width="371.10" height="296.70" fill="none" stroke="#000" stroke-width="1.55"/>
<g class="t">
<text x="65.22" y="317.50" font-family="Liberation Serif" font-size="15.70" textLength="7.26" lengthAdjust="spacingAndGlyphs">0</text>
<text x="129.00" y="317.50" font-family="Liberation Serif" font-size="15.70" textLength="7.26" lengthAdjust="spacingAndGlyphs">2</text>
<text x="192.59" y="317.50" font-family="Liberation Serif" font-size="15.70" textLength="7.26" lengthAdjust="spacingAndGlyphs">4</text>
<text x="256.22" y="317.50" font-family="Liberation Serif" font-size="15.70" textLength="7.26" lengthAdjust="spacingAndGlyphs">6</text>
<text x="320.02" y="317.50" font-family="Liberation Serif" font-size="15.70" textLength="7.26" lengthAdjust="spacingAndGlyphs">8</text>
<text x="379.73" y="317.50" font-family="Liberation Serif" font-size="15.70" textLength="14.52" lengthAdjust="spacingAndGlyphs">10</text>
<text x="28.20" y="307.50" font-family="Liberation Serif" font-size="15.70" textLength="30.25" lengthAdjust="spacingAndGlyphs">-0.20</text>
<text x="28.22" y="258.10" font-family="Liberation Serif" font-size="15.70" textLength="30.25" lengthAdjust="spacingAndGlyphs">-0.15</text>
<text x="28.20" y="208.70" font-family="Liberation Serif" font-size="15.70" textLength="30.25" lengthAdjust="spacingAndGlyphs">-0.10</text>
<text x="28.22" y="159.30" font-family="Liberation Serif" font-size="15.70" textLength="30.25" lengthAdjust="spacingAndGlyphs">-0.05</text>
<text x="33.04" y="109.90" font-family="Liberation Serif" font-size="15.70" textLength="25.41" lengthAdjust="spacingAndGlyphs">0.00</text>
<text x="33.05" y="60.50" font-family="Liberation Serif" font-size="15.70" textLength="25.41" lengthAdjust="spacingAndGlyphs">0.05</text>
<text x="33.04" y="11.10" font-family="Liberation Serif" font-size="15.70" textLength="25.41" lengthAdjust="spacingAndGlyphs">0.10</text>
<text x="503.87" y="317.40" font-family="Liberation Serif" font-size="15.70" textLength="7.26" lengthAdjust="spacingAndGlyphs">0</text>
<text x="569.45" y="317.40" font-family="Liberation Serif" font-size="15.70" textLength="7.26" lengthAdjust="spacingAndGlyphs">2</text>
<text x="634.84" y="317.40" font-family="Liberation Serif" font-size="15.70" textLength="7.26" lengthAdjust="spacingAndGlyphs">4</text>
<text x="700.27" y="317.40" font-family="Liberation Serif" font-size="15.70" textLength="7.26" lengthAdjust="spacingAndGlyphs">6</text>
<text x="765.87" y="317.40" font-family="Liberation Serif" font-size="15.70" textLength="7.26" lengthAdjust="spacingAndGlyphs">8</text>
<text x="827.38" y="317.40" font-family="Liberation Serif" font-size="15.70" textLength="14.52" lengthAdjust="spacingAndGlyphs">10</text>
<text x="467.05" y="307.18" font-family="Liberation Serif" font-size="15.70" textLength="30.25" lengthAdjust="spacingAndGlyphs">-0.20</text>
<text x="467.07" y="257.73" font-family="Liberation Serif" font-size="15.70" textLength="30.25" lengthAdjust="spacingAndGlyphs">-0.15</text>
<text x="467.05" y="208.28" font-family="Liberation Serif" font-size="15.70" textLength="30.25" lengthAdjust="spacingAndGlyphs">-0.10</text>
<text x="467.07" y="158.83" font-family="Liberation Serif" font-size="15.70" textLength="30.25" lengthAdjust="spacingAndGlyphs">-0.05</text>
<text x="471.89" y="109.38" font-family="Liberation Serif" font-size="15.70" textLength="25.41" lengthAdjust="spacingAndGlyphs">0.00</text>
<text x="471.90" y="59.93" font-family="Liberation Serif" font-size="15.70" textLength="25.41" lengthAdjust="spacingAndGlyphs">0.05</text>
<text x="471.89" y="10.48" font-family="Liberation Serif" font-size="15.70" textLength="25.41" lengthAdjust="spacingAndGlyphs">0.10</text>
</g>
<g class="m">
<rect x="71.45" y="214.70" width="158.45" height="75.20" fill="#fff" stroke="#111" stroke-width="1.25"/>
<path d="M81.3 230.0H124.5" stroke="#ff0000" stroke-width="2.6" stroke-dasharray="3.3 6.75" fill="none"/>
<path d="M80.9 251.3H123.3" stroke="#00e600" stroke-width="2.6" fill="none"/>
<path d="M81.4 274.2H118.6" stroke="#0000ff" stroke-width="2.6" stroke-dasharray="13.7 9.6" fill="none"/>
<text x="139.99" y="233.20" font-family="Liberation Serif" font-size="18.60" font-style="italic" textLength="11.33" lengthAdjust="spacingAndGlyphs">w</text>
<text x="152.06" y="235.70" font-family="Liberation Serif" font-size="12.00" textLength="7.08" lengthAdjust="spacingAndGlyphs">0</text>
<path d="M165.60 227.40H177.60M165.60 231.00H177.60" stroke="#000" stroke-width="1.00"/>
<path d="M185.00 229.20H196.60" stroke="#000" stroke-width="1.00"/>
<text x="198.08" y="233.20" font-family="Liberation Serif" font-size="17.00" textLength="21.68" lengthAdjust="spacingAndGlyphs">1.2</text>
<text x="139.99" y="255.05" font-family="Liberation Serif" font-size="18.60" font-style="italic" textLength="11.33" lengthAdjust="spacingAndGlyphs">w</text>
<text x="152.06" y="257.55" font-family="Liberation Serif" font-size="12.00" textLength="7.08" lengthAdjust="spacingAndGlyphs">0</text>
<path d="M165.60 249.25H177.60M165.60 252.85H177.60" stroke="#000" stroke-width="1.00"/>
<path d="M185.00 251.05H196.60" stroke="#000" stroke-width="1.00"/>
<text x="197.98" y="255.05" font-family="Liberation Serif" font-size="17.00" textLength="8.10" lengthAdjust="spacingAndGlyphs">1</text>
<text x="139.99" y="277.90" font-family="Liberation Serif" font-size="18.60" font-style="italic" textLength="11.33" lengthAdjust="spacingAndGlyphs">w</text>
<text x="152.06" y="280.40" font-family="Liberation Serif" font-size="12.00" textLength="7.08" lengthAdjust="spacingAndGlyphs">0</text>
<path d="M165.60 272.10H177.60M165.60 275.70H177.60" stroke="#000" stroke-width="1.00"/>
<path d="M185.00 273.90H196.60" stroke="#000" stroke-width="1.00"/>
<text x="196.51" y="277.90" font-family="Liberation Serif" font-size="17.00" textLength="22.79" lengthAdjust="spacingAndGlyphs">0.8</text>
<rect x="510.40" y="214.70" width="158.30" height="75.20" fill="#fff" stroke="#111" stroke-width="1.25"/>
<path d="M519.6 228.3H562.3" stroke="#00e600" stroke-width="2.6" fill="none"/>
<path d="M520.0 250.5H563.5" stroke="#ff0000" stroke-width="2.6" stroke-dasharray="3.3 6.75" fill="none"/>
<path d="M519.9 274.2H557.1" stroke="#0000ff" stroke-width="2.6" stroke-dasharray="13.7 9.6" fill="none"/>
<text x="578.69" y="233.20" font-family="Liberation Serif" font-size="18.60" font-style="italic" textLength="11.33" lengthAdjust="spacingAndGlyphs">w</text>
<text x="590.96" y="235.60" font-family="Liberation Serif" font-size="12.50" textLength="6.85" lengthAdjust="spacingAndGlyphs">a</text>
<path d="M604.40 227.40H616.90M604.40 231.00H616.90" stroke="#000" stroke-width="1.00"/>
<text x="623.10" y="233.20" font-family="Liberation Serif" font-size="17.00" textLength="9.20" lengthAdjust="spacingAndGlyphs">0</text>
<text x="578.69" y="254.20" font-family="Liberation Serif" font-size="18.60" font-style="italic" textLength="11.33" lengthAdjust="spacingAndGlyphs">w</text>
<text x="590.96" y="256.60" font-family="Liberation Serif" font-size="12.50" textLength="6.85" lengthAdjust="spacingAndGlyphs">a</text>
<path d="M604.40 248.40H616.90M604.40 252.00H616.90" stroke="#000" stroke-width="1.00"/>
<text x="622.92" y="254.20" font-family="Liberation Serif" font-size="17.00" textLength="22.27" lengthAdjust="spacingAndGlyphs">0.5</text>
<text x="578.69" y="276.90" font-family="Liberation Serif" font-size="18.60" font-style="italic" textLength="11.33" lengthAdjust="spacingAndGlyphs">w</text>
<text x="590.96" y="279.30" font-family="Liberation Serif" font-size="12.50" textLength="6.85" lengthAdjust="spacingAndGlyphs">a</text>
<path d="M604.40 271.10H616.90M604.40 274.70H616.90" stroke="#000" stroke-width="1.00"/>
<text x="623.66" y="276.90" font-family="Liberation Serif" font-size="17.00" textLength="21.91" lengthAdjust="spacingAndGlyphs">1.0</text>
<text x="268.86" y="31.40" font-family="Liberation Serif" font-size="18.60" font-style="italic" textLength="12.28" lengthAdjust="spacingAndGlyphs">w</text>
<text x="282.09" y="33.80" font-family="Liberation Serif" font-size="14.50" font-style="italic" textLength="6.82" lengthAdjust="spacingAndGlyphs">a</text>
<path d="M294.70 25.60H307.60M294.70 29.20H307.60" stroke="#000" stroke-width="1.00"/>
<text x="312.50" y="31.40" font-family="Liberation Serif" font-size="17.00" textLength="9.20" lengthAdjust="spacingAndGlyphs">0</text>
<text x="322.89" y="31.40" font-family="Liberation Serif" font-size="18.00" textLength="4.03" lengthAdjust="spacingAndGlyphs">,</text>
<text x="342.50" y="31.40" font-family="Liberation Serif" font-size="17.00" textLength="12.90" lengthAdjust="spacingAndGlyphs">Ω</text>
<text x="355.39" y="33.80" font-family="Liberation Serif" font-size="12.00" textLength="11.65" lengthAdjust="spacingAndGlyphs">m</text>
<path d="M373.00 25.60H386.00M373.00 29.20H386.00" stroke="#000" stroke-width="1.00"/>
<text x="390.58" y="31.40" font-family="Liberation Serif" font-size="17.00" textLength="23.77" lengthAdjust="spacingAndGlyphs">0.3</text>
<text x="696.27" y="31.80" font-family="Liberation Serif" font-size="18.60" font-style="italic" textLength="12.07" lengthAdjust="spacingAndGlyphs">w</text>
<text x="708.79" y="34.30" font-family="Liberation Serif" font-size="12.00" textLength="6.72" lengthAdjust="spacingAndGlyphs">0</text>
<path d="M722.30 26.00H734.80M722.30 29.60H734.80" stroke="#000" stroke-width="1.00"/>
<path d="M741.20 27.80H753.40" stroke="#000" stroke-width="1.00"/>
<text x="755.25" y="31.80" font-family="Liberation Serif" font-size="17.00" textLength="7.67" lengthAdjust="spacingAndGlyphs">1</text>
<text x="764.24" y="31.80" font-family="Liberation Serif" font-size="18.00" textLength="3.69" lengthAdjust="spacingAndGlyphs">,</text>
<text x="783.90" y="31.80" font-family="Liberation Serif" font-size="17.00" textLength="12.90" lengthAdjust="spacingAndGlyphs">Ω</text>
<text x="796.79" y="34.20" font-family="Liberation Serif" font-size="12.00" textLength="11.44" lengthAdjust="spacingAndGlyphs">m</text>
<path d="M814.90 26.00H827.40M814.90 29.60H827.40" stroke="#000" stroke-width="1.00"/>
<text x="832.48" y="31.80" font-family="Liberation Serif" font-size="17.00" textLength="23.66" lengthAdjust="spacingAndGlyphs">0.3</text>
<text x="200.41" y="340.50" font-family="Liberation Serif" font-size="20.00" font-style="italic" textLength="9.74" lengthAdjust="spacingAndGlyphs">d</text>
<text x="211.60" y="343.20" font-family="Liberation Serif" font-size="12.60" font-style="italic" textLength="9.51" lengthAdjust="spacingAndGlyphs" style="stroke:#000;stroke-width:0.12px">L</text>
<text x="223.16" y="340.30" font-family="Liberation Serif" font-size="22.40" textLength="5.58" lengthAdjust="spacingAndGlyphs">(</text>
<text x="231.12" y="340.50" font-family="Liberation Serif" font-size="20.00" font-style="italic" textLength="7.64" lengthAdjust="spacingAndGlyphs">z</text>
<text x="240.34" y="340.30" font-family="Liberation Serif" font-size="22.40" textLength="5.83" lengthAdjust="spacingAndGlyphs">)</text>
<text x="252.50" y="340.80" font-family="Liberation Serif" font-size="20.80" textLength="6.00" lengthAdjust="spacingAndGlyphs" style="stroke:#000;stroke-width:0.30px">/</text>
<text x="264.41" y="340.50" font-family="Liberation Serif" font-size="20.60" font-style="italic" textLength="14.30" lengthAdjust="spacingAndGlyphs">H</text>
<text x="279.04" y="345.30" font-family="Liberation Serif" font-size="14.20" textLength="7.31" lengthAdjust="spacingAndGlyphs">0</text>
<path d="M281.80 328.50H291.00" stroke="#000" stroke-width="0.90"/>
<text x="292.68" y="331.90" font-family="Liberation Serif" font-size="13.60" textLength="6.96" lengthAdjust="spacingAndGlyphs">1</text>
<text x="642.01" y="340.50" font-family="Liberation Serif" font-size="20.00" font-style="italic" textLength="9.74" lengthAdjust="spacingAndGlyphs">d</text>
<text x="653.20" y="343.20" font-family="Liberation Serif" font-size="12.60" font-style="italic" textLength="9.51" lengthAdjust="spacingAndGlyphs" style="stroke:#000;stroke-width:0.12px">L</text>
<text x="664.76" y="340.30" font-family="Liberation Serif" font-size="22.40" textLength="5.58" lengthAdjust="spacingAndGlyphs">(</text>
<text x="672.72" y="340.50" font-family="Liberation Serif" font-size="20.00" font-style="italic" textLength="7.64" lengthAdjust="spacingAndGlyphs">z</text>
<text x="681.94" y="340.30" font-family="Liberation Serif" font-size="22.40" textLength="5.83" lengthAdjust="spacingAndGlyphs">)</text>
<text x="694.10" y="340.80" font-family="Liberation Serif" font-size="20.80" textLength="6.00" lengthAdjust="spacingAndGlyphs" style="stroke:#000;stroke-width:0.30px">/</text>
<text x="706.01" y="340.50" font-family="Liberation Serif" font-size="20.60" font-style="italic" textLength="14.30" lengthAdjust="spacingAndGlyphs">H</text>
<text x="720.64" y="345.30" font-family="Liberation Serif" font-size="14.20" textLength="7.31" lengthAdjust="spacingAndGlyphs">0</text>
<path d="M723.40 328.50H732.60" stroke="#000" stroke-width="0.90"/>
<text x="734.28" y="331.90" font-family="Liberation Serif" font-size="13.60" textLength="6.96" lengthAdjust="spacingAndGlyphs">1</text>
<g transform="translate(17.9 194.8) rotate(-90)">
<text x="1.14" y="0.00" font-family="Liberation Serif" font-size="21.00" font-style="italic" textLength="15.40" lengthAdjust="spacingAndGlyphs">X</text>
<text x="20.71" y="-0.20" font-family="Liberation Serif" font-size="23.40" textLength="5.96" lengthAdjust="spacingAndGlyphs">(</text>
<text x="28.44" y="0.00" font-family="Liberation Serif" font-size="21.00" font-style="italic" textLength="8.44" lengthAdjust="spacingAndGlyphs">z</text>
<text x="38.27" y="-0.20" font-family="Liberation Serif" font-size="23.40" textLength="6.48" lengthAdjust="spacingAndGlyphs">)</text>
<text x="51.90" y="0.30" font-family="Liberation Serif" font-size="21.80" textLength="5.70" lengthAdjust="spacingAndGlyphs" style="stroke:#000;stroke-width:0.30px">/</text>
<text x="64.74" y="0.00" font-family="Liberation Serif" font-size="21.60" font-style="italic" textLength="15.88" lengthAdjust="spacingAndGlyphs">H</text>
<text x="80.33" y="3.20" font-family="Liberation Serif" font-size="14.60" textLength="7.43" lengthAdjust="spacingAndGlyphs">0</text>
</g>
</g>
</svg>
</body></html>
